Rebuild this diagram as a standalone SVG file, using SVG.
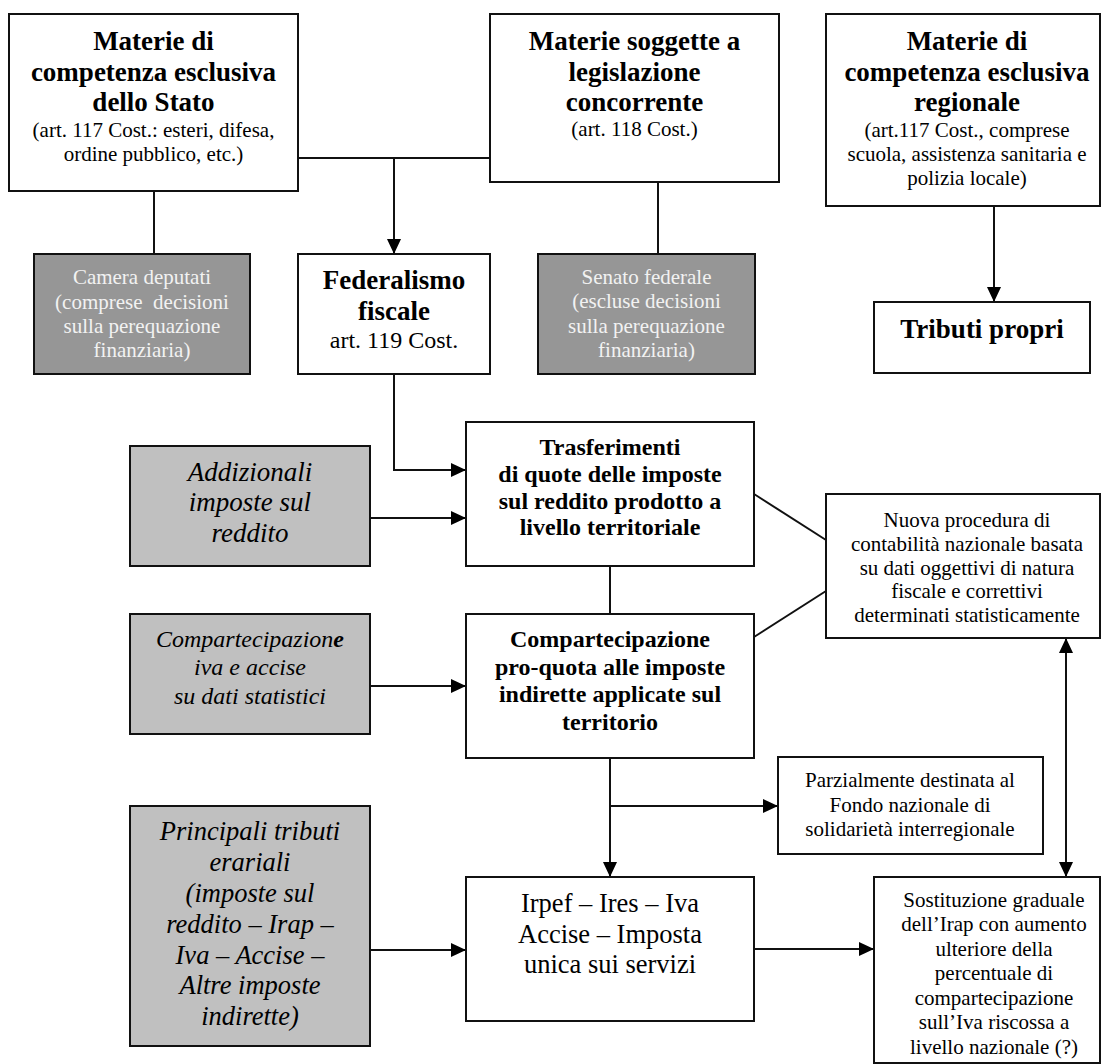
<svg xmlns="http://www.w3.org/2000/svg" width="1102" height="1064" viewBox="0 0 1102 1064">
  <defs>
    <marker id="arrow" viewBox="0 0 15 14" markerWidth="15" markerHeight="14" refX="15" refY="7" orient="auto-start-reverse" markerUnits="userSpaceOnUse">
      <path d="M0,0 L15,7 L0,14 z" fill="#000"/>
    </marker>
    <style>
      text { font-family: "Liberation Serif", "Times New Roman", serif; text-anchor: middle; fill: #000; }
      .box { fill: #fff; stroke: #111; stroke-width: 2; }
      .dark { fill: #969696; stroke: #111; stroke-width: 2; }
      .light { fill: #c0c0c0; stroke: #111; stroke-width: 2; }
      .h27 { font-size: 27px; font-weight: bold; }
      .h24 { font-size: 24px; font-weight: bold; }
      .r21 { font-size: 21px; }
      .r24 { font-size: 24px; }
      .r26 { font-size: 26.5px; }
      .w21 { font-size: 21px; fill: #f2f2f2; }
      .i27 { font-size: 27px; font-style: italic; }
      .i26 { font-size: 26.5px; font-style: italic; }
      .i24 { font-size: 24px; font-style: italic; }
      .conn line, .conn path { stroke: #111; stroke-width: 2; fill: none; }
    </style>
  </defs>

  <!-- connectors -->
  <g class="conn">
    <line x1="298" y1="158" x2="490" y2="158"/>
    <line x1="394" y1="158" x2="394" y2="254" marker-end="url(#arrow)"/>
    <line x1="154" y1="191" x2="154" y2="254"/>
    <line x1="658" y1="182" x2="658" y2="254"/>
    <line x1="994" y1="206" x2="994" y2="302" marker-end="url(#arrow)"/>
    <path d="M394,374 V470 H466" marker-end="url(#arrow)"/>
    <line x1="370" y1="518" x2="466" y2="518" marker-end="url(#arrow)"/>
    <line x1="610" y1="566" x2="610" y2="614"/>
    <line x1="754" y1="494" x2="826" y2="540"/>
    <line x1="754" y1="637" x2="826" y2="591"/>
    <line x1="370" y1="686" x2="466" y2="686" marker-end="url(#arrow)"/>
    <line x1="610" y1="758" x2="610" y2="877" marker-end="url(#arrow)"/>
    <line x1="610" y1="806" x2="778" y2="806" marker-end="url(#arrow)"/>
    <line x1="1066" y1="638" x2="1066" y2="877" marker-start="url(#arrow)" marker-end="url(#arrow)"/>
    <line x1="370" y1="950" x2="466" y2="950" marker-end="url(#arrow)"/>
    <line x1="754" y1="949" x2="874" y2="949" marker-end="url(#arrow)"/>
  </g>

  <!-- top row -->
  <g id="stato">
    <rect class="box" x="9" y="14" width="289" height="177"/>
    <text class="h27" x="153.5" y="50">Materie di</text>
    <text class="h27" x="153.5" y="80.5">competenza esclusiva</text>
    <text class="h27" x="153.5" y="111">dello Stato</text>
    <text class="r21" x="153.5" y="137">(art. 117 Cost.: esteri, difesa,</text>
    <text class="r21" x="153.5" y="161">ordine pubblico, etc.)</text>
  </g>
  <g id="concorrente">
    <rect class="box" x="490" y="14" width="289" height="168"/>
    <text class="h27" x="634.5" y="50">Materie soggette a</text>
    <text class="h27" x="634.5" y="80.5">legislazione</text>
    <text class="h27" x="634.5" y="111">concorrente</text>
    <text class="r21" x="634.5" y="136">(art. 118 Cost.)</text>
  </g>
  <g id="regionale">
    <rect class="box" x="826" y="14" width="274" height="192"/>
    <text class="h27" x="967" y="50">Materie di</text>
    <text class="h27" x="967" y="80.5">competenza esclusiva</text>
    <text class="h27" x="967" y="111">regionale</text>
    <text class="r21" x="967" y="136.5">(art.117 Cost., comprese</text>
    <text class="r21" x="967" y="160.5">scuola, assistenza sanitaria e</text>
    <text class="r21" x="967" y="184.5">polizia locale)</text>
  </g>

  <!-- second row -->
  <g id="camera">
    <rect class="dark" x="34" y="254" width="216" height="120"/>
    <text class="w21" x="142" y="284">Camera deputati</text>
    <text class="w21" x="142" y="308.5" xml:space="preserve">(comprese  decisioni</text>
    <text class="w21" x="142" y="332.5">sulla perequazione</text>
    <text class="w21" x="142" y="357">finanziaria)</text>
  </g>
  <g id="federalismo">
    <rect class="box" x="298" y="254" width="192" height="120"/>
    <text class="h27" x="394" y="288.5">Federalismo</text>
    <text class="h27" x="394" y="320">fiscale</text>
    <text class="r24" x="394" y="347.5">art. 119 Cost.</text>
  </g>
  <g id="senato">
    <rect class="dark" x="538" y="254" width="217" height="120"/>
    <text class="w21" x="646.5" y="283.5">Senato federale</text>
    <text class="w21" x="646.5" y="308">(escluse decisioni</text>
    <text class="w21" x="646.5" y="332.5">sulla perequazione</text>
    <text class="w21" x="646.5" y="357">finanziaria)</text>
  </g>
  <g id="tributi-propri">
    <rect class="box" x="874" y="302" width="216" height="71"/>
    <text class="h27" x="982" y="337.5">Tributi propri</text>
  </g>

  <!-- transfers -->
  <g id="addizionali">
    <rect class="light" x="130" y="446" width="240" height="120"/>
    <text class="i27" x="250" y="480.5">Addizionali</text>
    <text class="i27" x="250" y="511">imposte sul</text>
    <text class="i27" x="250" y="541.5">reddito</text>
  </g>
  <g id="trasferimenti">
    <rect class="box" x="466" y="422" width="288" height="144"/>
    <text class="h24" x="610" y="455">Trasferimenti</text>
    <text class="h24" x="610" y="482">di quote delle imposte</text>
    <text class="h24" x="610" y="508.5">sul reddito prodotto a</text>
    <text class="h24" x="610" y="535">livello territoriale</text>
  </g>
  <g id="nuova-procedura">
    <rect class="box" x="826" y="494" width="274" height="144"/>
    <text class="r21" x="967" y="527">Nuova procedura di</text>
    <text class="r21" x="967" y="550.5">contabilità nazionale basata</text>
    <text class="r21" x="967" y="574.5">su dati oggettivi di natura</text>
    <text class="r21" x="967" y="598">fiscale e correttivi</text>
    <text class="r21" x="967" y="621.5">determinati statisticamente</text>
  </g>
  <g id="compartecipazione-iva">
    <rect class="light" x="130" y="614" width="240" height="120"/>
    <text class="i24" x="250" y="647">Compartecipazion<tspan font-weight="bold">e</tspan></text>
    <text class="i24" x="250" y="675">iva e accise</text>
    <text class="i24" x="250" y="703.5">su dati statistici</text>
  </g>
  <g id="compartecipazione">
    <rect class="box" x="466" y="614" width="288" height="144"/>
    <text class="h24" x="610" y="647">Compartecipazione</text>
    <text class="h24" x="610" y="674.5">pro-quota alle imposte</text>
    <text class="h24" x="610" y="702">indirette applicate sul</text>
    <text class="h24" x="610" y="729.5">territorio</text>
  </g>
  <g id="fondo">
    <rect class="box" x="778" y="757" width="265" height="97"/>
    <text class="r21" x="910" y="786.5">Parzialmente destinata al</text>
    <text class="r21" x="910" y="811.5">Fondo nazionale di</text>
    <text class="r21" x="910" y="836">solidarietà interregionale</text>
  </g>

  <!-- bottom row -->
  <g id="tributi-erariali">
    <rect class="light" x="130" y="806" width="240" height="240"/>
    <text class="i26" x="250" y="840">Principali tributi</text>
    <text class="i26" x="250" y="871">erariali</text>
    <text class="i26" x="250" y="902">(imposte sul</text>
    <text class="i26" x="250" y="932.5">reddito – Irap –</text>
    <text class="i26" x="250" y="963.5">Iva – Accise –</text>
    <text class="i26" x="250" y="994">Altre imposte</text>
    <text class="i26" x="250" y="1025">indirette)</text>
  </g>
  <g id="imposte">
    <rect class="box" x="466" y="877" width="288" height="144"/>
    <text class="r26" x="610" y="912">Irpef – Ires – Iva</text>
    <text class="r26" x="610" y="942.5">Accise – Imposta</text>
    <text class="r26" x="610" y="972.5">unica sui servizi</text>
  </g>
  <g id="sostituzione-irap">
    <rect class="box" x="874" y="877" width="226" height="186"/>
    <text class="r21" x="994" y="906.5">Sostituzione graduale</text>
    <text class="r21" x="994" y="931">dell’Irap con aumento</text>
    <text class="r21" x="994" y="955.5">ulteriore della</text>
    <text class="r21" x="994" y="980">percentuale di</text>
    <text class="r21" x="994" y="1004.5">compartecipazione</text>
    <text class="r21" x="994" y="1029">sull’Iva riscossa a</text>
    <text class="r21" x="994" y="1053.5">livello nazionale (?)</text>
  </g>
</svg>
